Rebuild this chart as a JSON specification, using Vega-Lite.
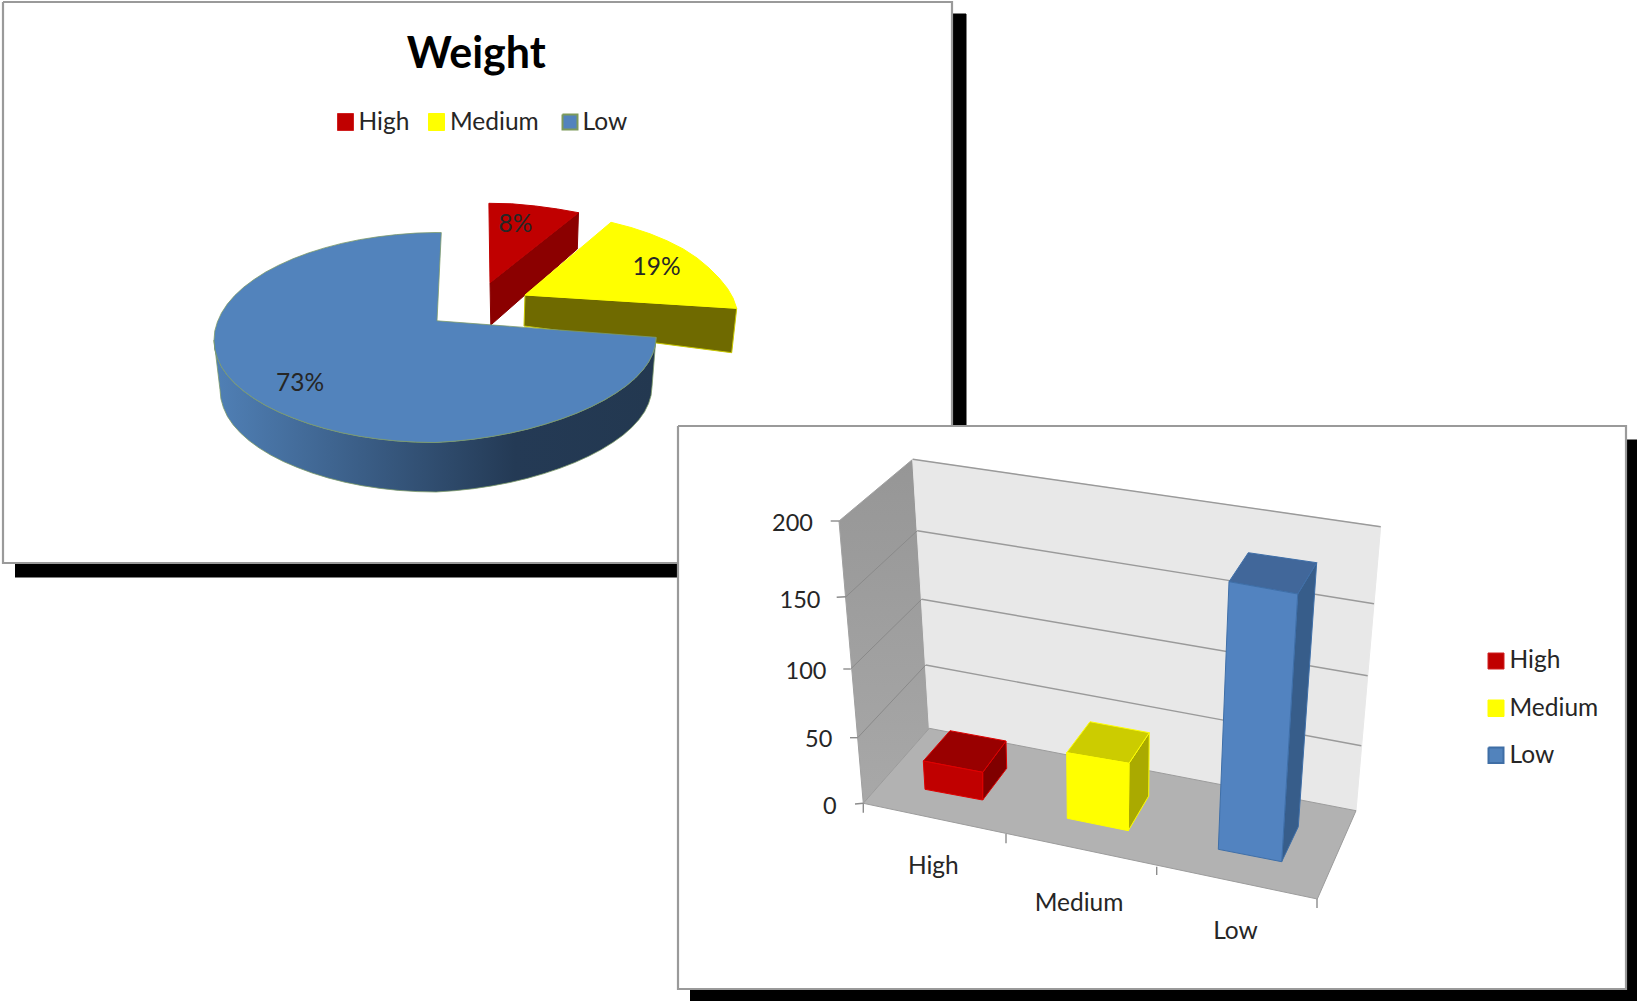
{
"$schema":"https://vega.github.io/schema/vega-lite/v6.json",
"width":1637,"height":1001,"padding":0,
"autosize":{"type":"none"},
"background":"#ffffff",
"view":{"stroke":null},
"datasets":{
"sheetOne":[
{"shape":"shadow1","part":"shadow","x":15,"y":14},{"shape":"shadow1","part":"shadow","x":966,"y":14},{"shape":"shadow1","part":"shadow","x":966,"y":577},{"shape":"shadow1","part":"shadow","x":15,"y":577},
{"shape":"panel1","part":"panel","x":3,"y":2},{"shape":"panel1","part":"panel","x":952,"y":2},{"shape":"panel1","part":"panel","x":952,"y":563},{"shape":"panel1","part":"panel","x":3,"y":563},{"shape":"panel1","part":"panel","x":3,"y":2},
{"shape":"redSide","part":"pieRedSide","x":490,"y":282.7},{"shape":"redSide","part":"pieRedSide","x":578.5,"y":212.7},{"shape":"redSide","part":"pieRedSide","x":577.3,"y":249},{"shape":"redSide","part":"pieRedSide","x":490.8,"y":325},{"shape":"redSide","part":"pieRedSide","x":490,"y":282.7},
{"shape":"redTop","part":"pieRedTop","x":488.9,"y":203.3},{"shape":"redTop","part":"pieRedTop","x":511.8,"y":203.8},{"shape":"redTop","part":"pieRedTop","x":535.5,"y":206},{"shape":"redTop","part":"pieRedTop","x":557.6,"y":209},{"shape":"redTop","part":"pieRedTop","x":578.5,"y":212.7},{"shape":"redTop","part":"pieRedTop","x":490,"y":282.7},{"shape":"redTop","part":"pieRedTop","x":488.9,"y":203.3},
{"shape":"yellowSide","part":"pieYellowSide","x":525,"y":295},{"shape":"yellowSide","part":"pieYellowSide","x":736.7,"y":308.3},{"shape":"yellowSide","part":"pieYellowSide","x":731.7,"y":352.7},{"shape":"yellowSide","part":"pieYellowSide","x":524,"y":326},{"shape":"yellowSide","part":"pieYellowSide","x":525,"y":295},
{"shape":"yellowTop","part":"pieYellowTop","x":525,"y":295},{"shape":"yellowTop","part":"pieYellowTop","x":611,"y":222.3},{"shape":"yellowTop","part":"pieYellowTop","x":631,"y":227.5},{"shape":"yellowTop","part":"pieYellowTop","x":650,"y":233.8},{"shape":"yellowTop","part":"pieYellowTop","x":667,"y":240.8},{"shape":"yellowTop","part":"pieYellowTop","x":683.3,"y":249},{"shape":"yellowTop","part":"pieYellowTop","x":697,"y":258},{"shape":"yellowTop","part":"pieYellowTop","x":709,"y":268},{"shape":"yellowTop","part":"pieYellowTop","x":719,"y":278},{"shape":"yellowTop","part":"pieYellowTop","x":727.5,"y":288.5},{"shape":"yellowTop","part":"pieYellowTop","x":733,"y":298},{"shape":"yellowTop","part":"pieYellowTop","x":736.7,"y":308.3},{"shape":"yellowTop","part":"pieYellowTop","x":525,"y":295}
],
"pieRim":[
{"x":214,"y":340.2},{"x":214.8,"y":349.3},{"x":217.4,"y":358.1},{"x":221.5,"y":366.9},{"x":227.3,"y":375.3},{"x":234.7,"y":383.3},{"x":243.6,"y":391.1},{"x":254,"y":398.5},{"x":265.7,"y":405.5},{"x":278.7,"y":412},{"x":292.9,"y":417.9},{"x":308.2,"y":423.5},{"x":324.5,"y":428.4},{"x":341.6,"y":432.7},{"x":359.4,"y":436.2},{"x":377.8,"y":438.9},{"x":396.6,"y":440.9},{"x":415.7,"y":442.1},{"x":435,"y":442.5},{"x":454.3,"y":441.2},{"x":473.4,"y":439.2},{"x":492.2,"y":436.4},{"x":510.6,"y":433},{"x":528.4,"y":428.9},{"x":545.5,"y":424.1},{"x":561.8,"y":418.8},{"x":577.1,"y":413},{"x":591.3,"y":406.7},{"x":604.3,"y":400.1},{"x":616,"y":393},{"x":626.4,"y":385.7},{"x":635.3,"y":378.1},{"x":642.7,"y":370.2},{"x":648.5,"y":362.2},{"x":652.6,"y":354},{"x":655.2,"y":345.8},{"x":656,"y":337.3},
{"x":652,"y":386.8},{"x":651.1,"y":395.3},{"x":648.6,"y":403.5},{"x":644.6,"y":411.7},{"x":638.9,"y":419.7},{"x":631.7,"y":427.6},{"x":623,"y":435.2},{"x":612.8,"y":442.5},{"x":601.4,"y":449.6},{"x":588.7,"y":456.2},{"x":574.8,"y":462.5},{"x":559.9,"y":468.3},{"x":544,"y":473.6},{"x":527.2,"y":478.4},{"x":509.9,"y":482.5},{"x":491.9,"y":485.9},{"x":473.5,"y":488.7},{"x":454.9,"y":490.7},{"x":436,"y":492},{"x":417.1,"y":491.6},{"x":398.5,"y":490.4},{"x":380.1,"y":488.4},{"x":362.1,"y":485.7},{"x":344.8,"y":482.2},{"x":328,"y":477.9},{"x":312.1,"y":473},{"x":297.2,"y":467.4},{"x":283.3,"y":461.5},{"x":270.6,"y":455},{"x":259.2,"y":448},{"x":249,"y":440.6},{"x":240.3,"y":432.8},{"x":233.1,"y":424.8},{"x":227.4,"y":416.4},{"x":223.4,"y":407.6},{"x":220.9,"y":398.8},{"x":220,"y":389.7},{"x":214,"y":340.2}
],
"sheetTwo":[
{"shape":"blueTop","part":"pieBlueTop","x":437,"y":320.8},{"shape":"blueTop","part":"pieBlueTop","x":441.3,"y":232.6},{"shape":"blueTop","part":"pieBlueTop","x":435,"y":232.5},{"shape":"blueTop","part":"pieBlueTop","x":415.7,"y":233.1},{"shape":"blueTop","part":"pieBlueTop","x":396.6,"y":234.6},{"shape":"blueTop","part":"pieBlueTop","x":377.8,"y":236.8},{"shape":"blueTop","part":"pieBlueTop","x":359.4,"y":239.7},{"shape":"blueTop","part":"pieBlueTop","x":341.6,"y":243.4},{"shape":"blueTop","part":"pieBlueTop","x":324.5,"y":247.9},{"shape":"blueTop","part":"pieBlueTop","x":308.2,"y":253},{"shape":"blueTop","part":"pieBlueTop","x":292.9,"y":258.8},{"shape":"blueTop","part":"pieBlueTop","x":278.7,"y":265.2},{"shape":"blueTop","part":"pieBlueTop","x":265.7,"y":272},{"shape":"blueTop","part":"pieBlueTop","x":254,"y":279.5},{"shape":"blueTop","part":"pieBlueTop","x":243.6,"y":287.3},{"shape":"blueTop","part":"pieBlueTop","x":234.7,"y":295.5},{"shape":"blueTop","part":"pieBlueTop","x":227.3,"y":304.1},{"shape":"blueTop","part":"pieBlueTop","x":221.5,"y":312.9},{"shape":"blueTop","part":"pieBlueTop","x":217.4,"y":321.9},{"shape":"blueTop","part":"pieBlueTop","x":214.8,"y":330.9},{"shape":"blueTop","part":"pieBlueTop","x":214,"y":340.2},{"shape":"blueTop","part":"pieBlueTop","x":214.8,"y":349.3},{"shape":"blueTop","part":"pieBlueTop","x":217.4,"y":358.1},{"shape":"blueTop","part":"pieBlueTop","x":221.5,"y":366.9},{"shape":"blueTop","part":"pieBlueTop","x":227.3,"y":375.3},{"shape":"blueTop","part":"pieBlueTop","x":234.7,"y":383.3},{"shape":"blueTop","part":"pieBlueTop","x":243.6,"y":391.1},{"shape":"blueTop","part":"pieBlueTop","x":254,"y":398.5},{"shape":"blueTop","part":"pieBlueTop","x":265.7,"y":405.5},{"shape":"blueTop","part":"pieBlueTop","x":278.7,"y":412},{"shape":"blueTop","part":"pieBlueTop","x":292.9,"y":417.9},{"shape":"blueTop","part":"pieBlueTop","x":308.2,"y":423.5},{"shape":"blueTop","part":"pieBlueTop","x":324.5,"y":428.4},{"shape":"blueTop","part":"pieBlueTop","x":341.6,"y":432.7},{"shape":"blueTop","part":"pieBlueTop","x":359.4,"y":436.2},{"shape":"blueTop","part":"pieBlueTop","x":377.8,"y":438.9},{"shape":"blueTop","part":"pieBlueTop","x":396.6,"y":440.9},{"shape":"blueTop","part":"pieBlueTop","x":415.7,"y":442.1},{"shape":"blueTop","part":"pieBlueTop","x":435,"y":442.5},{"shape":"blueTop","part":"pieBlueTop","x":454.3,"y":441.2},{"shape":"blueTop","part":"pieBlueTop","x":473.4,"y":439.2},{"shape":"blueTop","part":"pieBlueTop","x":492.2,"y":436.4},{"shape":"blueTop","part":"pieBlueTop","x":510.6,"y":433},{"shape":"blueTop","part":"pieBlueTop","x":528.4,"y":428.9},{"shape":"blueTop","part":"pieBlueTop","x":545.5,"y":424.1},{"shape":"blueTop","part":"pieBlueTop","x":561.8,"y":418.8},{"shape":"blueTop","part":"pieBlueTop","x":577.1,"y":413},{"shape":"blueTop","part":"pieBlueTop","x":591.3,"y":406.7},{"shape":"blueTop","part":"pieBlueTop","x":604.3,"y":400.1},{"shape":"blueTop","part":"pieBlueTop","x":616,"y":393},{"shape":"blueTop","part":"pieBlueTop","x":626.4,"y":385.7},{"shape":"blueTop","part":"pieBlueTop","x":635.3,"y":378.1},{"shape":"blueTop","part":"pieBlueTop","x":642.7,"y":370.2},{"shape":"blueTop","part":"pieBlueTop","x":648.5,"y":362.2},{"shape":"blueTop","part":"pieBlueTop","x":652.6,"y":354},{"shape":"blueTop","part":"pieBlueTop","x":655.2,"y":345.8},{"shape":"blueTop","part":"pieBlueTop","x":656,"y":337.3},{"shape":"blueTop","part":"pieBlueTop","x":437,"y":320.8},
{"shape":"keyHigh1","part":"swatchRed","x":337.5,"y":113.5},{"shape":"keyHigh1","part":"swatchRed","x":353.5,"y":113.5},{"shape":"keyHigh1","part":"swatchRed","x":353.5,"y":130.5},{"shape":"keyHigh1","part":"swatchRed","x":337.5,"y":130.5},{"shape":"keyHigh1","part":"swatchRed","x":337.5,"y":113.5},
{"shape":"keyMedium1","part":"swatchYellow","x":428.5,"y":113.5},{"shape":"keyMedium1","part":"swatchYellow","x":444.5,"y":113.5},{"shape":"keyMedium1","part":"swatchYellow","x":444.5,"y":130.5},{"shape":"keyMedium1","part":"swatchYellow","x":428.5,"y":130.5},{"shape":"keyMedium1","part":"swatchYellow","x":428.5,"y":113.5},
{"shape":"keyLow1","part":"swatchLowPie","x":562.5,"y":114.5},{"shape":"keyLow1","part":"swatchLowPie","x":577.5,"y":114.5},{"shape":"keyLow1","part":"swatchLowPie","x":577.5,"y":129.5},{"shape":"keyLow1","part":"swatchLowPie","x":562.5,"y":129.5},{"shape":"keyLow1","part":"swatchLowPie","x":562.5,"y":114.5},
{"shape":"shadow2","part":"shadow","x":690,"y":440},{"shape":"shadow2","part":"shadow","x":1637,"y":440},{"shape":"shadow2","part":"shadow","x":1637,"y":1001},{"shape":"shadow2","part":"shadow","x":690,"y":1001},
{"shape":"panel2","part":"panel","x":678,"y":426},{"shape":"panel2","part":"panel","x":1626,"y":426},{"shape":"panel2","part":"panel","x":1626,"y":989},{"shape":"panel2","part":"panel","x":678,"y":989},{"shape":"panel2","part":"panel","x":678,"y":426}
],
"sideWall":[
{"x":839,"y":521},{"x":912.7,"y":459.3},{"x":929.3,"y":728.3},{"x":863.3,"y":803.3},{"x":839,"y":521}
],
"barChart":[
{"shape":"backWall","part":"backWall","x":912.7,"y":459.3},{"shape":"backWall","part":"backWall","x":1380.7,"y":526.7},{"shape":"backWall","part":"backWall","x":1356,"y":810.7},{"shape":"backWall","part":"backWall","x":929.3,"y":728.3},{"shape":"backWall","part":"backWall","x":912.7,"y":459.3},
{"shape":"floor","part":"floor","x":929.3,"y":728.3},{"shape":"floor","part":"floor","x":1356,"y":810.7},{"shape":"floor","part":"floor","x":1317.3,"y":899},{"shape":"floor","part":"floor","x":863.3,"y":803.3},{"shape":"floor","part":"floor","x":929.3,"y":728.3},
{"shape":"grid200","part":"grid","x":912.7,"y":459.3},{"shape":"grid200","part":"grid","x":1380.7,"y":526.7},
{"shape":"grid150","part":"grid","x":917.3,"y":530.7},{"shape":"grid150","part":"grid","x":1374,"y":603.7},
{"shape":"grid100","part":"grid","x":921.7,"y":599.3},{"shape":"grid100","part":"grid","x":1367.7,"y":675.7},
{"shape":"grid50","part":"grid","x":925.7,"y":665},{"shape":"grid50","part":"grid","x":1361.3,"y":745.7},
{"shape":"side150","part":"wallGrid","x":917.3,"y":530.7},{"shape":"side150","part":"wallGrid","x":846,"y":596.7},
{"shape":"side100","part":"wallGrid","x":921.7,"y":599.3},{"shape":"side100","part":"wallGrid","x":850.7,"y":669},
{"shape":"side50","part":"wallGrid","x":925.7,"y":665},{"shape":"side50","part":"wallGrid","x":857.7,"y":737.7},
{"shape":"tick200","part":"tick","x":830.7,"y":521},{"shape":"tick200","part":"tick","x":839,"y":521},
{"shape":"tick150","part":"tick","x":836.7,"y":597.3},{"shape":"tick150","part":"tick","x":846,"y":596.7},
{"shape":"tick100","part":"tick","x":843.3,"y":669},{"shape":"tick100","part":"tick","x":850.7,"y":669},
{"shape":"tick50","part":"tick","x":850,"y":737.7},{"shape":"tick50","part":"tick","x":857.7,"y":737.7},
{"shape":"tick0","part":"tick","x":855,"y":804},{"shape":"tick0","part":"tick","x":863.3,"y":803.3},
{"shape":"tickA","part":"tick","x":863.3,"y":803.3},{"shape":"tickA","part":"tick","x":863.3,"y":812.7},
{"shape":"tickB","part":"tick","x":1006,"y":834},{"shape":"tickB","part":"tick","x":1006,"y":843.3},
{"shape":"tickC","part":"tick","x":1156.7,"y":866.7},{"shape":"tickC","part":"tick","x":1156.7,"y":875},
{"shape":"tickD","part":"tick","x":1317,"y":899},{"shape":"tickD","part":"tick","x":1317,"y":908},
{"shape":"redBarSide","part":"barRedSide","x":982.7,"y":772.3},{"shape":"redBarSide","part":"barRedSide","x":1006,"y":741},{"shape":"redBarSide","part":"barRedSide","x":1006.7,"y":768.3},{"shape":"redBarSide","part":"barRedSide","x":982.7,"y":800},{"shape":"redBarSide","part":"barRedSide","x":982.7,"y":772.3},
{"shape":"redBarTop","part":"barRedTop","x":923.3,"y":761},{"shape":"redBarTop","part":"barRedTop","x":950,"y":730.7},{"shape":"redBarTop","part":"barRedTop","x":1006,"y":741},{"shape":"redBarTop","part":"barRedTop","x":982.7,"y":772.3},{"shape":"redBarTop","part":"barRedTop","x":923.3,"y":761},
{"shape":"redBarFront","part":"barRedFront","x":923.3,"y":761},{"shape":"redBarFront","part":"barRedFront","x":982.7,"y":772.3},{"shape":"redBarFront","part":"barRedFront","x":982.7,"y":800},{"shape":"redBarFront","part":"barRedFront","x":925,"y":789.3},{"shape":"redBarFront","part":"barRedFront","x":923.3,"y":761},
{"shape":"yellowBarSide","part":"barYellowSide","x":1129,"y":763.3},{"shape":"yellowBarSide","part":"barYellowSide","x":1149.3,"y":732.7},{"shape":"yellowBarSide","part":"barYellowSide","x":1148.7,"y":796},{"shape":"yellowBarSide","part":"barYellowSide","x":1128.3,"y":830.7},{"shape":"yellowBarSide","part":"barYellowSide","x":1129,"y":763.3},
{"shape":"yellowBarTop","part":"barYellowTop","x":1066.7,"y":752.7},{"shape":"yellowBarTop","part":"barYellowTop","x":1090,"y":721.7},{"shape":"yellowBarTop","part":"barYellowTop","x":1149.3,"y":732.7},{"shape":"yellowBarTop","part":"barYellowTop","x":1129,"y":763.3},{"shape":"yellowBarTop","part":"barYellowTop","x":1066.7,"y":752.7},
{"shape":"yellowBarFront","part":"barYellowFront","x":1066.7,"y":752.7},{"shape":"yellowBarFront","part":"barYellowFront","x":1129,"y":763.3},{"shape":"yellowBarFront","part":"barYellowFront","x":1128.3,"y":830.7},{"shape":"yellowBarFront","part":"barYellowFront","x":1067.3,"y":818.3},{"shape":"yellowBarFront","part":"barYellowFront","x":1066.7,"y":752.7},
{"shape":"blueBarSide","part":"barBlueSide","x":1297.7,"y":594},{"shape":"blueBarSide","part":"barBlueSide","x":1316.7,"y":562.7},{"shape":"blueBarSide","part":"barBlueSide","x":1298.3,"y":826.7},{"shape":"blueBarSide","part":"barBlueSide","x":1281.7,"y":861.7},{"shape":"blueBarSide","part":"barBlueSide","x":1297.7,"y":594},
{"shape":"blueBarTop","part":"barBlueTop","x":1229,"y":581.7},{"shape":"blueBarTop","part":"barBlueTop","x":1248.3,"y":552.7},{"shape":"blueBarTop","part":"barBlueTop","x":1316.7,"y":562.7},{"shape":"blueBarTop","part":"barBlueTop","x":1297.7,"y":594},{"shape":"blueBarTop","part":"barBlueTop","x":1229,"y":581.7},
{"shape":"blueBarFront","part":"barBlueFront","x":1229,"y":581.7},{"shape":"blueBarFront","part":"barBlueFront","x":1297.7,"y":594},{"shape":"blueBarFront","part":"barBlueFront","x":1281.7,"y":861.7},{"shape":"blueBarFront","part":"barBlueFront","x":1218.3,"y":849.3},{"shape":"blueBarFront","part":"barBlueFront","x":1229,"y":581.7},
{"shape":"keyHigh2","part":"swatchRed","x":1488,"y":653},{"shape":"keyHigh2","part":"swatchRed","x":1504,"y":653},{"shape":"keyHigh2","part":"swatchRed","x":1504,"y":669},{"shape":"keyHigh2","part":"swatchRed","x":1488,"y":669},{"shape":"keyHigh2","part":"swatchRed","x":1488,"y":653},
{"shape":"keyMedium2","part":"swatchYellow","x":1488,"y":700},{"shape":"keyMedium2","part":"swatchYellow","x":1504,"y":700},{"shape":"keyMedium2","part":"swatchYellow","x":1504,"y":716.5},{"shape":"keyMedium2","part":"swatchYellow","x":1488,"y":716.5},{"shape":"keyMedium2","part":"swatchYellow","x":1488,"y":700},
{"shape":"keyLow2","part":"swatchLowBar","x":1488.5,"y":747.5},{"shape":"keyLow2","part":"swatchLowBar","x":1503.5,"y":747.5},{"shape":"keyLow2","part":"swatchLowBar","x":1503.5,"y":763},{"shape":"keyLow2","part":"swatchLowBar","x":1488.5,"y":763},{"shape":"keyLow2","part":"swatchLowBar","x":1488.5,"y":747.5}
],
"labels":[
{"role":"title","text":"Weight","x":476.2,"y":67.5},
{"role":"centre","text":"8%","x":515.5,"y":232},
{"role":"centre","text":"19%","x":656.5,"y":275},
{"role":"centre","text":"73%","x":300,"y":391},
{"role":"centre","text":"High","x":933.3,"y":874.3},
{"role":"centre","text":"Medium","x":1079,"y":911.3},
{"role":"centre","text":"Low","x":1235.5,"y":938.5},
{"role":"key","text":"High","x":358.5,"y":130.3},
{"role":"key","text":"Medium","x":450,"y":130.3},
{"role":"key","text":"Low","x":582.5,"y":130.3},
{"role":"key","text":"High","x":1509.5,"y":668.2},
{"role":"key","text":"Medium","x":1509.5,"y":716.2},
{"role":"key","text":"Low","x":1509.5,"y":763},
{"role":"value","text":"200","x":813,"y":531},
{"role":"value","text":"150","x":820.5,"y":607.5},
{"role":"value","text":"100","x":826.5,"y":678.8},
{"role":"value","text":"50","x":832.3,"y":747.2},
{"role":"value","text":"0","x":836.7,"y":813.7}
]
},
"encoding":{
"x":{"field":"x","type":"quantitative","axis":null,"scale":{"domain":[0,1637],"nice":false,"zero":false}},
"y":{"field":"y","type":"quantitative","axis":null,"scale":{"domain":[1001,0],"nice":false,"zero":false}}
},
"layer":[
{"data":{"name":"sheetOne"},
 "transform":[{"window":[{"op":"row_number","as":"i"}]}],
 "mark":{"type":"line"},
 "encoding":{
  "order":{"field":"i","type":"quantitative"},"detail":{"field":"shape"},
  "strokeWidth":{"condition":{"test":"datum.part==='panel'","value":2.2},"value":1},
  "fill":{"field":"part","type":"nominal","legend":null,"scale":{"domain":["shadow","panel","pieRedTop","pieRedSide","pieYellowTop","pieYellowSide","pieBlueTop","swatchRed","swatchYellow","swatchLowPie","swatchLowBar","backWall","floor","grid","wallGrid","tick","barRedFront","barRedTop","barRedSide","barYellowFront","barYellowTop","barYellowSide","barBlueFront","barBlueTop","barBlueSide"],"range":["#000000","#ffffff","#c00000","#8b0000","#ffff00","#6f6a00","#5283bc","#c00000","#ffff00","#5283bc","#5283bc","#e8e8e8","#b2b2b2","transparent","transparent","transparent","#c00000","#990000","#800000","#ffff00","#cccc00","#aaaa00","#5283c0","#41679a","#375d8a"]}},
  "stroke":{"field":"part","type":"nominal","legend":null,"scale":{"domain":["shadow","panel","pieRedTop","pieRedSide","pieYellowTop","pieYellowSide","pieBlueTop","swatchRed","swatchYellow","swatchLowPie","swatchLowBar","backWall","floor","grid","wallGrid","tick","barRedFront","barRedTop","barRedSide","barYellowFront","barYellowTop","barYellowSide","barBlueFront","barBlueTop","barBlueSide"],"range":["#000000","#9a9a9a","#c00000","#8b0000","#ffff00","#c8c800","#7c9a6a","#d02020","#ffff00","#7c9a5a","#3f6ea5","#e8e8e8","#9c9c9c","#9a9a9a","#8a8a8a","#8c8c8c","#e00000","#e00000","#e00000","#ffff00","#ffff00","#ffff00","#3f6fa8","#3f6fa8","#3f6fa8"]}}
 }},
{"data":{"name":"pieRim"},
 "transform":[{"window":[{"op":"row_number","as":"i"}]}],
 "mark":{"type":"line","strokeWidth":0.8,"stroke":"#7c9a6a","fill":{"gradient":"linear","x1":0,"y1":0,"x2":1,"y2":0,"stops":[{"offset":0,"color":"#5080b6"},{"offset":0.68,"color":"#243a55"},{"offset":1,"color":"#233850"}]}},
 "encoding":{"order":{"field":"i","type":"quantitative"}}},
{"data":{"name":"sheetTwo"},
 "transform":[{"window":[{"op":"row_number","as":"i"}]}],
 "mark":{"type":"line"},
 "encoding":{
  "order":{"field":"i","type":"quantitative"},"detail":{"field":"shape"},
  "strokeWidth":{"condition":[{"test":"datum.part==='panel'","value":2.2},{"test":"datum.part==='swatchLowPie'","value":2},{"test":"datum.part==='pieBlueTop'","value":0.8}],"value":1},
  "fill":{"field":"part","type":"nominal","legend":null,"scale":{"domain":["shadow","panel","pieRedTop","pieRedSide","pieYellowTop","pieYellowSide","pieBlueTop","swatchRed","swatchYellow","swatchLowPie","swatchLowBar","backWall","floor","grid","wallGrid","tick","barRedFront","barRedTop","barRedSide","barYellowFront","barYellowTop","barYellowSide","barBlueFront","barBlueTop","barBlueSide"],"range":["#000000","#ffffff","#c00000","#8b0000","#ffff00","#6f6a00","#5283bc","#c00000","#ffff00","#5283bc","#5283bc","#e8e8e8","#b2b2b2","transparent","transparent","transparent","#c00000","#990000","#800000","#ffff00","#cccc00","#aaaa00","#5283c0","#41679a","#375d8a"]}},
  "stroke":{"field":"part","type":"nominal","legend":null,"scale":{"domain":["shadow","panel","pieRedTop","pieRedSide","pieYellowTop","pieYellowSide","pieBlueTop","swatchRed","swatchYellow","swatchLowPie","swatchLowBar","backWall","floor","grid","wallGrid","tick","barRedFront","barRedTop","barRedSide","barYellowFront","barYellowTop","barYellowSide","barBlueFront","barBlueTop","barBlueSide"],"range":["#000000","#9a9a9a","#c00000","#8b0000","#ffff00","#c8c800","#7c9a6a","#d02020","#ffff00","#7c9a5a","#3f6ea5","#e8e8e8","#9c9c9c","#9a9a9a","#8a8a8a","#8c8c8c","#e00000","#e00000","#e00000","#ffff00","#ffff00","#ffff00","#3f6fa8","#3f6fa8","#3f6fa8"]}}
 }},
{"data":{"name":"sideWall"},
 "transform":[{"window":[{"op":"row_number","as":"i"}]}],
 "mark":{"type":"line","strokeWidth":1,"stroke":"#a0a0a0","fill":{"gradient":"linear","x1":0,"y1":0,"x2":0,"y2":1,"stops":[{"offset":0,"color":"#969696"},{"offset":1,"color":"#a8a8a8"}]}},
 "encoding":{"order":{"field":"i","type":"quantitative"}}},
{"data":{"name":"barChart"},
 "transform":[{"window":[{"op":"row_number","as":"i"}]}],
 "mark":{"type":"line"},
 "encoding":{
  "order":{"field":"i","type":"quantitative"},"detail":{"field":"shape"},
  "strokeWidth":{"condition":[{"test":"datum.part==='grid' || datum.part==='tick'","value":1.4},{"test":"datum.part==='swatchLowBar'","value":2}],"value":1},
  "fill":{"field":"part","type":"nominal","legend":null,"scale":{"domain":["shadow","panel","pieRedTop","pieRedSide","pieYellowTop","pieYellowSide","pieBlueTop","swatchRed","swatchYellow","swatchLowPie","swatchLowBar","backWall","floor","grid","wallGrid","tick","barRedFront","barRedTop","barRedSide","barYellowFront","barYellowTop","barYellowSide","barBlueFront","barBlueTop","barBlueSide"],"range":["#000000","#ffffff","#c00000","#8b0000","#ffff00","#6f6a00","#5283bc","#c00000","#ffff00","#5283bc","#5283bc","#e8e8e8","#b2b2b2","transparent","transparent","transparent","#c00000","#990000","#800000","#ffff00","#cccc00","#aaaa00","#5283c0","#41679a","#375d8a"]}},
  "stroke":{"field":"part","type":"nominal","legend":null,"scale":{"domain":["shadow","panel","pieRedTop","pieRedSide","pieYellowTop","pieYellowSide","pieBlueTop","swatchRed","swatchYellow","swatchLowPie","swatchLowBar","backWall","floor","grid","wallGrid","tick","barRedFront","barRedTop","barRedSide","barYellowFront","barYellowTop","barYellowSide","barBlueFront","barBlueTop","barBlueSide"],"range":["#000000","#9a9a9a","#c00000","#8b0000","#ffff00","#c8c800","#7c9a6a","#d02020","#ffff00","#7c9a5a","#3f6ea5","#e8e8e8","#9c9c9c","#9a9a9a","#8a8a8a","#8c8c8c","#e00000","#e00000","#e00000","#ffff00","#ffff00","#ffff00","#3f6fa8","#3f6fa8","#3f6fa8"]}}
 }},
{"data":{"name":"labels"},"transform":[{"filter":"datum.role==='title'"}],
 "mark":{"type":"text","font":"Lato","fontWeight":"bold","fontSize":43,"align":"center","baseline":"alphabetic","color":"#000000"},
 "encoding":{"text":{"field":"text"}}},
{"data":{"name":"labels"},"transform":[{"filter":"datum.role==='centre'"}],
 "mark":{"type":"text","font":"Lato","fontSize":24.5,"align":"center","baseline":"alphabetic","color":"#262626"},
 "encoding":{"text":{"field":"text"}}},
{"data":{"name":"labels"},"transform":[{"filter":"datum.role==='key'"}],
 "mark":{"type":"text","font":"Lato","fontSize":24.5,"align":"left","baseline":"alphabetic","color":"#262626"},
 "encoding":{"text":{"field":"text"}}},
{"data":{"name":"labels"},"transform":[{"filter":"datum.role==='value'"}],
 "mark":{"type":"text","font":"Lato","fontSize":23.5,"align":"right","baseline":"alphabetic","color":"#262626"},
 "encoding":{"text":{"field":"text"}}}
]
}
